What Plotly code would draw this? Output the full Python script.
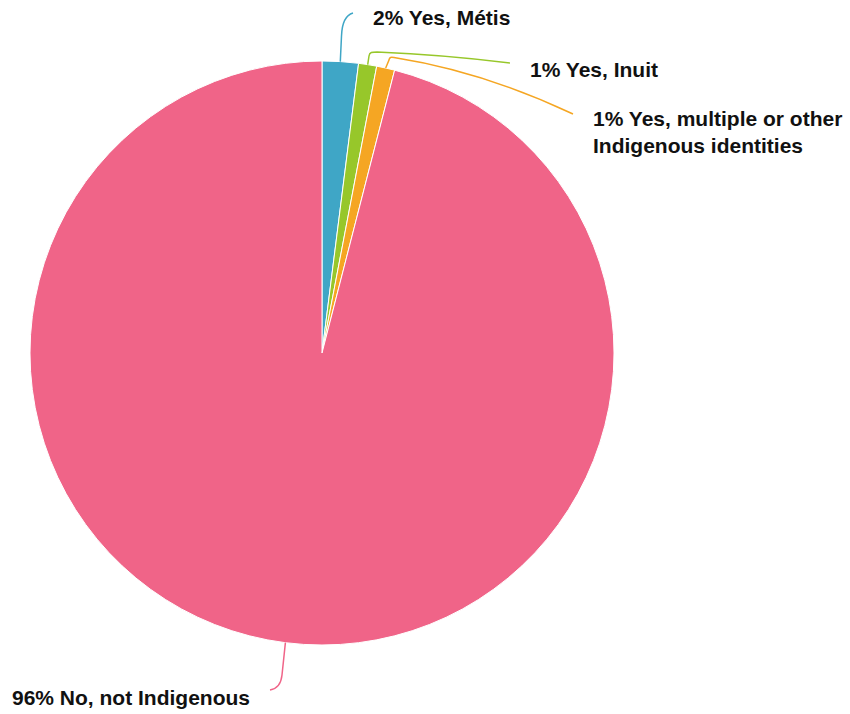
import math
import plotly.graph_objects as go

# ---- data ----
labels = ["Yes, Métis", "Yes, Inuit", "Yes, multiple or other<br>Indigenous identities", "No, not Indigenous"]
values = [2, 1, 1, 96]
colors = ["#3fa6c6", "#97c72a", "#f5a623", "#f06488"]

# ---- layout geometry (page pixels) ----
W, H = 850, 714
CX, CY, R = 322, 353, 292

fig = go.Figure()
fig.add_trace(go.Pie(
    labels=labels, values=values, sort=False, direction="clockwise", rotation=0,
    marker=dict(colors=colors, line=dict(color="white", width=1)),
    textinfo="none", hoverinfo="label+percent", showlegend=False,
    domain=dict(x=[(CX - R) / W, (CX + R) / W],
                y=[(H - CY - R) / H, (H - CY + R) / H]),
))

# mid-angle edge points computed from the data
total = sum(values)
cum = 0
starts = []
for v in values:
    mid = (cum + v / 2) / total * 2 * math.pi
    starts.append((CX + R * math.sin(mid), CY - R * math.cos(mid)))
    cum += v

# leader-line routing and label anchors, per slice
routes = [
    dict(elbow=(341.5, 36), ctrl1=(342, 22), ctrl2=(346, 15), end=(353, 13), label=(371, 17)),
    dict(elbow=(369, 56), ctrl1=(369.5, 52), ctrl2=(372, 52), end=(510, 63), label=(528, 69), mid=(377, 52)),
    dict(elbow=(389, 60), ctrl1=(389.5, 57), ctrl2=(391, 57), end=(573, 114), label=(591, 132), mid=(394, 57.5)),
    dict(elbow=(282, 675), ctrl1=(281, 685), ctrl2=(276, 689), end=(270, 690), label=(10, 697)),
]

for (sx, sy), rt, col, lab, v in zip(starts, routes, colors, labels, values):
    ex, ey = rt["elbow"]
    c1, c2 = rt["ctrl1"], rt["ctrl2"]
    if "mid" in rt:
        mx, my = rt["mid"]
        tx, ty = rt["end"]
        path = (f"M {sx:.1f} {sy:.1f} L {ex} {ey} C {c1[0]} {c1[1]} {c2[0]} {c2[1]} {mx} {my} "
                f"Q {(mx + tx) / 2} {my + (ty - my) * 0.25} {tx} {ty}")
    else:
        tx, ty = rt["end"]
        path = f"M {sx:.1f} {sy:.1f} L {ex} {ey} C {c1[0]} {c1[1]} {c2[0]} {c2[1]} {tx} {ty}"
    fig.add_shape(type="path", path=path, xref="x", yref="y",
                  line=dict(color=col, width=1.5))
    fig.add_annotation(x=rt["label"][0], y=rt["label"][1], xref="x", yref="y",
                       text=f"{v}% {lab}", showarrow=False, xanchor="left", yanchor="middle",
                       align="left",
                       font=dict(family="Liberation Sans, Arial, sans-serif", size=21,
                                 color="#111111", weight="bold"))

fig.update_layout(
    width=W, height=H, margin=dict(l=0, r=0, t=0, b=0),
    paper_bgcolor="white", plot_bgcolor="rgba(0,0,0,0)",
    xaxis=dict(range=[0, W], visible=False, domain=[0, 1], fixedrange=True),
    yaxis=dict(range=[H, 0], visible=False, domain=[0, 1], fixedrange=True),
)

fig.write_html("out.html", config={"displayModeBar": False},
               post_script="document.body.style.margin='0';")
